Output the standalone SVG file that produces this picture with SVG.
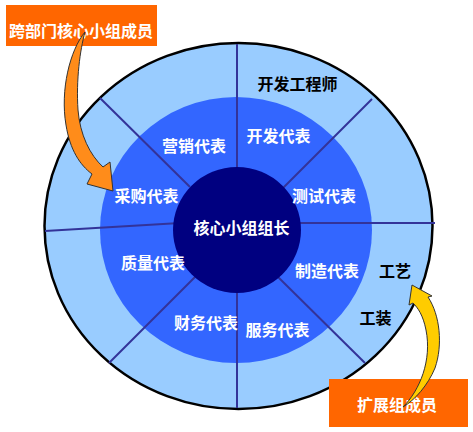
<svg xmlns="http://www.w3.org/2000/svg" width="473" height="432" viewBox="0 0 473 432">
<style>
.t{font-family:"Noto Sans CJK SC","Noto Sans",sans-serif;font-weight:bold;font-size:16px;text-anchor:middle;dominant-baseline:central}
.w{fill:#ffffff}
.b{fill:#000000}
.div{stroke:#333399;stroke-width:2;fill:none}
.box{fill:#ff6600}
</style>
<rect width="473" height="432" fill="#ffffff"/>
<g id="rings">
<ellipse cx="238.5" cy="226" rx="194" ry="183" fill="#99ccff" stroke="#000000" stroke-width="2.5"/>
<ellipse cx="236" cy="230" rx="136" ry="133" fill="#3366ff"/>
</g>
<g id="dividers">
<line class="div" x1="237" y1="44" x2="237" y2="408"/>
<line class="div" x1="45" y1="231" x2="180" y2="223"/>
<line class="div" x1="290" y1="223" x2="435" y2="223"/>
<line class="div" x1="100" y1="98" x2="190" y2="187"/>
<line class="div" x1="372" y1="99" x2="282" y2="189"/>
<line class="div" x1="109" y1="363" x2="196" y2="276"/>
<line class="div" x1="365" y1="363" x2="277" y2="276"/>
</g>
<g id="core">
<ellipse cx="237" cy="230" rx="64" ry="63" fill="#000080"/>
<text class="t w" x="241.5" y="227">核心小组组长</text>
</g>
<g id="n-kaifa-gcs"><text class="t b" x="297.5" y="83">开发工程师</text></g>
<g id="n-yingxiao"><text class="t w" x="194" y="145">营销代表</text></g>
<g id="n-kaifa"><text class="t w" x="278.5" y="135">开发代表</text></g>
<g id="n-caigou"><text class="t w" x="146.5" y="195">采购代表</text></g>
<g id="n-ceshi"><text class="t w" x="324" y="195">测试代表</text></g>
<g id="n-zhiliang"><text class="t w" x="153" y="262">质量代表</text></g>
<g id="n-zhizao"><text class="t w" x="327" y="270">制造代表</text></g>
<g id="n-caiwu"><text class="t w" x="206" y="322">财务代表</text></g>
<g id="n-fuwu"><text class="t w" x="277.5" y="329">服务代表</text></g>
<g id="n-gongyi"><text class="t b" x="395" y="270">工艺</text></g>
<g id="n-gongzhuang"><text class="t b" x="375.5" y="317">工装</text></g>
<g id="box-cross">
<rect class="box" x="6" y="5" width="151" height="41"/>
<text class="t w" x="81" y="30">跨部门核心小组成员</text>
</g>
<g id="box-ext">
<rect class="box" x="329" y="379" width="139" height="48"/>
<text class="t w" x="397" y="404">扩展组成员</text>
</g>
<g id="connectors">
<path d="M85 32 C70 50 60 90 66 125 C70 150 80 165 92 174 L87 184 L113 191 L110 162 L103 167 C90 155 80 135 78 110 C76 80 80 50 85 32 Z" fill="#ff8c1a" stroke="#333333" stroke-width="1"/>
<path d="M403 407 C420 390 432 360 426 330 C423 315 418 308 413 303 L409 305 L412 285 L432 296 L428 297 C440 315 443 345 435 368 C428 385 415 400 403 407 Z" fill="#ffcc00" stroke="#333333" stroke-width="1"/>
</g>
</svg>
